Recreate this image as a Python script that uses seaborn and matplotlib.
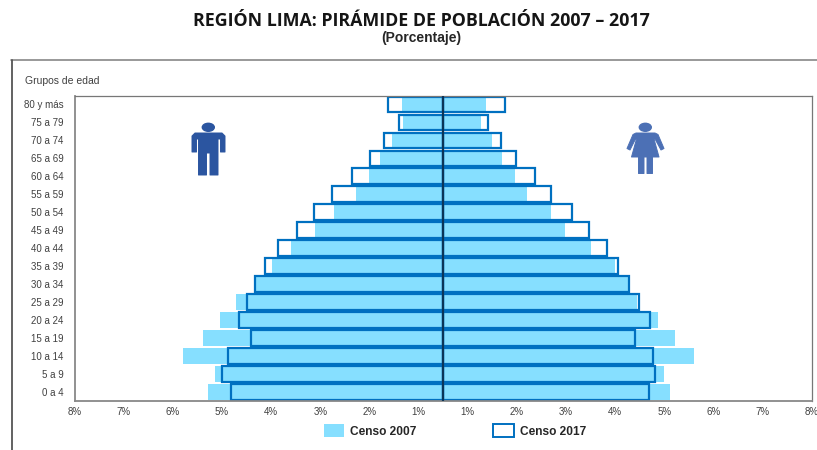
"""
Region Lima population pyramid, censuses 2007 and 2017
"""
import matplotlib
matplotlib.use("Agg")
import matplotlib.pyplot as plt
from matplotlib.lines import Line2D
from matplotlib.patches import Ellipse, Patch, Polygon
from matplotlib.transforms import Affine2D
import pandas as pd
import seaborn as sns

grupos = [
    "80 y más", "75 a 79", "70 a 74", "65 a 69", "60 a 64", "55 a 59",
    "50 a 54", "45 a 49", "40 a 44", "35 a 39", "30 a 34", "25 a 29",
    "20 a 24", "15 a 19", "10 a 14", "5 a 9", "0 a 4",
]
hombres_2007 = [1.34, 1.31, 1.54, 1.78, 2.00, 2.27, 2.72, 3.10, 3.59, 3.98, 4.31, 4.71, 5.04, 5.38, 5.79, 5.14, 5.28]
mujeres_2007 = [1.37, 1.27, 1.50, 1.69, 1.95, 2.20, 2.70, 2.97, 3.51, 4.00, 4.25, 4.45, 4.86, 5.22, 5.59, 4.98, 5.11]
hombres_2017 = [1.62, 1.39, 1.70, 1.98, 2.35, 2.76, 3.12, 3.47, 3.87, 4.12, 4.32, 4.49, 4.65, 4.41, 4.87, 4.99, 4.82]
mujeres_2017 = [1.75, 1.41, 1.67, 1.98, 2.36, 2.70, 3.11, 3.46, 3.84, 4.06, 4.27, 4.48, 4.71, 4.39, 4.76, 4.80, 4.69]
ticks_pct = [8, 7, 6, 5, 4, 3, 2, 1, 1, 2, 3, 4, 5, 6, 7, 8]

CELESTE = "#86DFFF"
AZUL = "#0070C0"
TEXTO = "#404040"
# the source axis has no 0%: the 1% labels sit half a unit from the centre
OFFSET = 0.5


def pos(valores, signo):
    return [signo * (v - OFFSET) for v in valores]


df_2007_h = pd.DataFrame({"grupo": grupos, "x": pos(hombres_2007, -1)})
df_2007_m = pd.DataFrame({"grupo": grupos, "x": pos(mujeres_2007, 1)})
df_2017_h = pd.DataFrame({"grupo": grupos, "x": pos(hombres_2017, -1)})
df_2017_m = pd.DataFrame({"grupo": grupos, "x": pos(mujeres_2017, 1)})

sns.set_style("white")
plt.rcParams["font.family"] = ["Liberation Sans", "DejaVu Sans"]

fig = plt.figure(figsize=(8.17, 4.5), dpi=100)
ax = fig.add_axes([74.5 / 817, 1 - 400.7 / 450, (812 - 74.5) / 817, (400.7 - 95.5) / 450])

for df in [df_2007_h, df_2007_m]:
    sns.barplot(data=df, x="x", y="grupo", order=grupos, color=CELESTE, saturation=1,
                width=0.87, errorbar=None, linewidth=0, ax=ax)
for df in [df_2017_h, df_2017_m]:
    sns.barplot(data=df, x="x", y="grupo", order=grupos, color=AZUL, saturation=1,
                width=0.87, errorbar=None, fill=False, linewidth=1.6, ax=ax)

ax.axvline(0, color="#0B3558", linewidth=1.6, zorder=5)
ax.set_xlim(-7.5, 7.5)
ax.set_xticks([-(t - OFFSET) for t in ticks_pct[:8]] + [t - OFFSET for t in ticks_pct[8:]])
ax.set_xticklabels([f"{t}%" for t in ticks_pct])
ax.set(xlabel="", ylabel="")
ax.tick_params(axis="x", length=0, pad=4.5, labelsize=7, labelcolor=TEXTO)
ax.tick_params(axis="y", length=0, pad=8, labelsize=7, labelcolor=TEXTO)
for lado in ["top", "right"]:
    ax.spines[lado].set_color("#777777")
    ax.spines[lado].set_linewidth(0.9)
for lado in ["left", "bottom"]:
    ax.spines[lado].set_color("#888888")
    ax.spines[lado].set_linewidth(1.3)

# everything below is placed in image pixels, y going down
px = Affine2D().scale(1, -1).translate(0, 450)

fig.text(421, 21, "REGIÓN LIMA: PIRÁMIDE DE POBLACIÓN 2007 – 2017", transform=px, ha="center", va="center",
         fontsize=12.8, fontweight="bold", family="Open Sans", color="#151515")
fig.text(421, 38, "(Porcentaje)", transform=px, ha="center", va="center",
         fontsize=10, fontweight="bold", color="#262626")
fig.text(25, 81, "Grupos de edad", transform=px, ha="left", va="center", fontsize=7.5, color=TEXTO)

fig.add_artist(Line2D([11, 817], [60, 60], transform=px, color="#888888", linewidth=1.2))
fig.add_artist(Line2D([11.5, 11.5], [60, 450], transform=px, color="#555555", linewidth=1.3))

# pictograms
HOMBRE = "#2B55A0"
MUJER = "#4C70B5"
fig.add_artist(Ellipse((208.3, 127.3), 12, 8, transform=px, color=HOMBRE))
fig.add_artist(Polygon(
    [(192, 136), (195, 133), (222, 133), (225, 136), (225, 152), (220.5, 152), (220.5, 139),
     (218, 139), (218, 175), (210, 175), (210, 153), (206.5, 153), (206.5, 175), (198.5, 175),
     (198.5, 139), (196.5, 139), (196.5, 152), (192, 152)],
    transform=px, facecolor=HOMBRE, edgecolor=HOMBRE, linewidth=0.7, joinstyle="round"))
fig.add_artist(Ellipse((645.3, 127.3), 12, 8, transform=px, color=MUJER))
fig.add_artist(Polygon(
    [(636, 133), (655, 133), (658, 134.5), (664, 148.5), (661, 150), (655, 139), (654, 139),
     (659, 157), (652.5, 157), (652.5, 173.5), (647, 173.5), (647, 157), (644, 157), (644, 173.5),
     (638.5, 173.5), (638.5, 157), (631.5, 157), (636.5, 139), (635.5, 139), (630, 150),
     (627, 148.5), (633, 134.5)],
    transform=px, facecolor=MUJER, edgecolor=MUJER, linewidth=0.7, joinstyle="round"))

handles = [
    Patch(facecolor=CELESTE, edgecolor="none", label="Censo 2007"),
    Patch(facecolor="white", edgecolor=AZUL, linewidth=1.4, label="Censo 2017"),
]
leg = fig.legend(handles=handles, loc="center", bbox_to_anchor=(455, 431), bbox_transform=px, ncol=2, frameon=False,
                 fontsize=8.6, handlelength=1.75, handleheight=1.25, handletextpad=0.5, columnspacing=6.4,
                 borderpad=0, labelcolor="#262626")
for t in leg.get_texts():
    t.set_fontweight("bold")

fig.savefig("out.png", dpi=100)
